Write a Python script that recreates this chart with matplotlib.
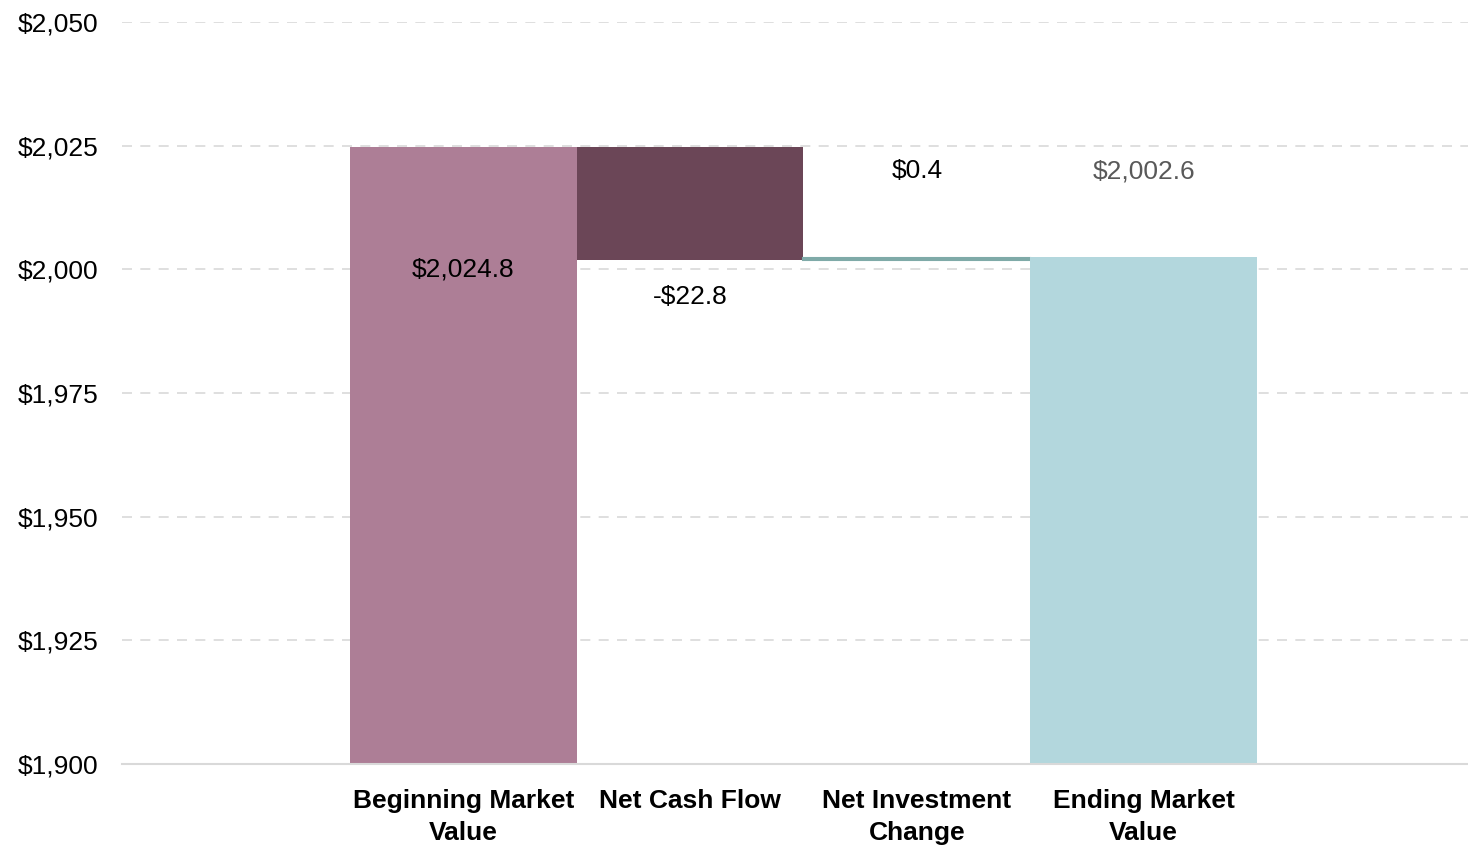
import matplotlib.pyplot as plt
import matplotlib.font_manager as fm
from matplotlib.ticker import FuncFormatter

categories = ["Beginning Market\nValue", "Net Cash Flow", "Net Investment\nChange", "Ending Market\nValue"]
beginning = 2024.8
changes = [-22.8, 0.4]
ending = 2002.6
labels = ["$2,024.8", "-$22.8", "$0.4", "$2,002.6"]

colors = ["#AD7E96", "#6B4657", "#7FAAA8", "#B3D7DD"]

names = {f.name for f in fm.fontManager.ttflist}
fam = [f for f in ["Liberation Sans Narrow", "Liberation Sans", "DejaVu Sans"] if f in names]
plt.rcParams['font.family'] = fam

fig = plt.figure(figsize=(14.68, 8.5), dpi=100)
ax = fig.add_axes([0.083, 0.101, 0.917, 0.873])

base = 1900
x = [1, 2, 3, 4]

# waterfall: bottoms and heights
bottoms = [base]
heights = [beginning - base]
running = beginning
for c in changes:
    bottoms.append(min(running, running + c))
    heights.append(abs(c))
    running += c
bottoms.append(base)
heights.append(ending - base)

bars = ax.bar(x, heights, bottom=bottoms, width=1.0, color=colors, zorder=2)
# thin change bar drawn a bit thicker, like the reference
bars[2].set_edgecolor(colors[2])
bars[2].set_linewidth(1.5)

# data labels
ax.text(x[0], beginning - 24.8, labels[0], ha='center', va='center', fontsize=19)
ax.text(x[1], bottoms[1] - 7.5, labels[1], ha='center', va='center', fontsize=19)
ax.text(x[2], 2019.8, labels[2], ha='center', va='center', fontsize=19)
ax.text(x[3], 2019.8, labels[3], ha='center', va='center', fontsize=19, color='#595959')

ax.set_ylim(1900, 2050)
ax.set_xlim(-0.505, 5.43)
ax.set_yticks(range(1900, 2051, 25))
ax.yaxis.set_major_formatter(FuncFormatter(lambda v, p: "${:,.0f}".format(v)))
ax.set_xticks(x)
ax.set_xticklabels(categories, fontsize=19, fontweight='bold', linespacing=1.4)
ax.tick_params(axis='y', labelsize=19, length=0, pad=17)
ax.tick_params(axis='x', length=0, pad=18)

ax.grid(axis='y', color='#D9D9D9', linestyle=(0, (6, 5)), linewidth=1.2, zorder=0)
for s in ['top', 'right', 'left']:
    ax.spines[s].set_visible(False)
ax.spines['bottom'].set_color('#D9D9D9')
ax.spines['bottom'].set_linewidth(1.5)

fig.savefig("out.png", dpi=100)
